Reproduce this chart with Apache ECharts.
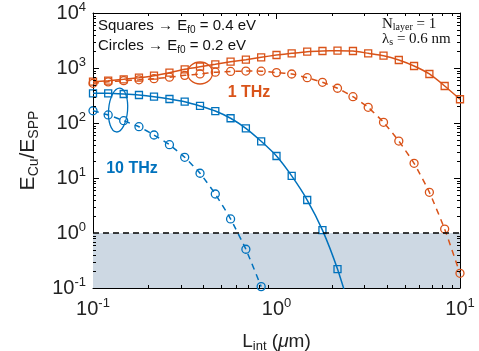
<!DOCTYPE html>
<html><head><meta charset="utf-8">
<script src="https://cdn.jsdelivr.net/npm/echarts@6/dist/echarts.min.js"></script>
<style>html,body{margin:0;padding:0;background:#fff}#c{width:479px;height:351px}</style>
</head><body><div id="c"></div>
<script>
// ---- data ----
const xValues = [0.1, 0.121, 0.147, 0.178, 0.215, 0.261, 0.316, 0.383, 0.464, 0.562, 0.681, 0.825,
  1, 1.21, 1.47, 1.78, 2.15, 2.61, 3.16, 3.83, 4.64, 5.62, 6.81, 8.25, 10];
// 1 THz, Ef0 = 0.4 eV (squares)
const orangeSquares = [564, 588, 623, 666, 725, 822, 946, 1056, 1167, 1302, 1416, 1566,
  1723, 1850, 1979, 2037, 2064, 2037, 1850, 1675, 1398, 1087, 778, 471, 270];
// 1 THz, Ef0 = 0.2 eV (circles)
const orangeCircles = [527, 560, 588, 610, 640, 680, 735, 780, 840, 865, 880, 875,
  825, 778, 666, 550, 428, 301, 193, 103, 47, 18.5, 5.5, 1.18, 0.185];
// 10 THz, Ef0 = 0.4 eV (squares)
const blueSquares = [347, 347, 337, 323, 301, 273, 244, 204, 165, 122, 80, 46.5,
  25.1, 10.9, 3.98, 1.13, 0.221, 0.028];
// 10 THz, Ef0 = 0.2 eV (circles)
const blueCircles = [167, 140, 110, 85.6, 60.5, 40.3, 23.8, 12.2, 5.12, 1.80, 0.506, 0.106];

const xTickValues = [0.1, 1, 10];
const yTickValues = [0.1, 1, 10, 100, 1000, 10000];
const xMinorTicks = [0.2, 0.3, 0.4, 0.5, 0.6, 0.7, 0.8, 0.9, 2, 3, 4, 5, 6, 7, 8, 9];
const yMinorTicks = [0.2, 0.3, 0.4, 0.5, 0.6, 0.7, 0.8, 0.9, 2, 3, 4, 5, 6, 7, 8, 9,
  20, 30, 40, 50, 60, 70, 80, 90, 200, 300, 400, 500, 600, 700, 800, 900,
  2000, 3000, 4000, 5000, 6000, 7000, 8000, 9000];
const shadeRange = [0.1, 1];
const thresholdLine = 1;
// annotation ellipse centres (data coordinates)
const orangeEllipseCenter = [0.383, 811];
const blueEllipseCenter = [0.137, 172];

// ---- styles ----
const ORANGE = '#D95319', BLUE = '#0072BD';
const FONT = '"Liberation Sans", Arial, Helvetica, sans-serif';
const SERIF = '"Liberation Serif", "Times New Roman", serif';

function pairs(ys) { return ys.map((y, i) => [xValues[i], y]); }
function expLabel(v) { const e = Math.round(Math.log10(v)); return '{b|10}{s|' + e + '}'; }

const labelRich = {
  b: { fontSize: 20, fontFamily: FONT, color: '#222' },
  s: { fontSize: 13, fontFamily: FONT, color: '#222', padding: [0, 0, 11, 0] }
};

function minorTickSeries(values, isX) {
  return {
    type: 'custom', coordinateSystem: 'cartesian2d', silent: true, z: 6,
    data: values.map(v => isX ? [v, 1] : [1, v]),
    renderItem(params, api) {
      const cs = params.coordSys;
      const st = { stroke: '#000', lineWidth: 1 };
      const L = 3;
      if (isX) {
        const px = Math.round(api.coord([api.value(0), 1])[0]) + 0.5;
        return { type: 'group', children: [
          { type: 'line', shape: { x1: px, y1: cs.y + cs.height, x2: px, y2: cs.y + cs.height - L }, style: st },
          { type: 'line', shape: { x1: px, y1: cs.y, x2: px, y2: cs.y + L }, style: st }
        ] };
      }
      const py = Math.round(api.coord([1, api.value(1)])[1]) + 0.5;
      return { type: 'group', children: [
        { type: 'line', shape: { x1: cs.x, y1: py, x2: cs.x + L, y2: py }, style: st },
        { type: 'line', shape: { x1: cs.x + cs.width, y1: py, x2: cs.x + cs.width - L, y2: py }, style: st }
      ] };
    }
  };
}

function dataSeries(ys, color, symbol, dashed, size) {
  return {
    type: 'line', data: pairs(ys), symbol: symbol, symbolSize: size, smooth: 0.15,
    clip: true, z: 3,
    lineStyle: { color: color, width: 1.5, type: dashed ? [6, 5] : 'solid' },
    itemStyle: { color: 'rgba(255,255,255,0)', borderColor: color, borderWidth: 1.3 },
    emphasis: { disabled: true }
  };
}

const chart = echarts.init(document.getElementById('c'));
const axisCommon = {
  type: 'log', logBase: 10, splitLine: { show: false },
  axisLine: { show: true, lineStyle: { color: '#000', width: 1 } },
  axisTick: { show: true, inside: true, length: 6, lineStyle: { color: '#000' } }
};
chart.setOption({
  animation: false,
  grid: { left: 93, right: 19, top: 13, bottom: 63, containLabel: false, outerBoundsMode: 'none' },
  xAxis: [
    Object.assign({}, axisCommon, {
      min: xTickValues[0], max: xTickValues[xTickValues.length - 1], interval: 1,
      position: 'bottom',
      axisLabel: { margin: 9, formatter: expLabel, rich: labelRich },
      name: '{a|L}{sub|int}{a| (}{mu|μ}{a|m)}', nameLocation: 'middle', nameGap: 42,
      nameTextStyle: { rich: {
        a: { fontSize: 19, fontFamily: FONT, color: '#222' },
        mu: { fontSize: 19, fontFamily: FONT, color: '#222', fontStyle: 'italic' },
        sub: { fontSize: 13, fontFamily: FONT, color: '#222', padding: [10, 0, 0, 0] }
      } }
    }),
    Object.assign({}, axisCommon, {
      min: xTickValues[0], max: xTickValues[xTickValues.length - 1], interval: 1,
      position: 'top', axisLabel: { show: false }
    })
  ],
  yAxis: [
    Object.assign({}, axisCommon, {
      min: yTickValues[0], max: yTickValues[yTickValues.length - 1], interval: 1,
      position: 'left',
      axisLabel: { margin: 7, formatter: expLabel, rich: labelRich },
      name: '{a|E}{sub|Cu}{a|/E}{sub|SPP}', nameLocation: 'middle', nameGap: 50, nameRotate: 90,
      nameTextStyle: { rich: {
        a: { fontSize: 21, fontFamily: FONT, color: '#222' },
        sub: { fontSize: 14, fontFamily: FONT, color: '#222', padding: [12, 0, 0, 0] }
      } }
    }),
    Object.assign({}, axisCommon, {
      min: yTickValues[0], max: yTickValues[yTickValues.length - 1], interval: 1,
      position: 'right', axisLabel: { show: false }
    })
  ],
  series: [
    {
      type: 'line', data: [], z: 1, silent: true,
      markArea: { silent: true, itemStyle: { color: '#cdd8e3' },
        data: [[{ yAxis: shadeRange[0] }, { yAxis: shadeRange[1] }]] },
      markLine: { silent: true, symbol: 'none', label: { show: false },
        lineStyle: { color: '#000', width: 1.5, type: [6, 4] },
        data: [{ yAxis: thresholdLine }] }
    },
    dataSeries(orangeSquares, ORANGE, 'rect', false, 7),
    dataSeries(orangeCircles, ORANGE, 'circle', true, 8),
    dataSeries(blueSquares, BLUE, 'rect', false, 7),
    dataSeries(blueCircles, BLUE, 'circle', true, 8),
    minorTickSeries(xMinorTicks, true),
    minorTickSeries(yMinorTicks, false)
  ]
});

const oc = chart.convertToPixel({ gridIndex: 0 }, orangeEllipseCenter);
const bc = chart.convertToPixel({ gridIndex: 0 }, blueEllipseCenter);
chart.setOption({
  graphic: [
    { type: 'ellipse', shape: { cx: oc[0], cy: oc[1], rx: 12.5, ry: 11 },
      style: { fill: 'none', stroke: ORANGE, lineWidth: 1.3 }, z: 10 },
    { type: 'ellipse', shape: { cx: 0, cy: 0, rx: 9.5, ry: 22 }, x: bc[0], y: bc[1], rotation: -0.08,
      style: { fill: 'none', stroke: BLUE, lineWidth: 1.3 }, z: 10 },
    { type: 'text', x: 98, y: 26, z: 10,
      style: { text: '{a|Squares → E}{sub|f0}{a| = 0.4 eV}', align: 'left', verticalAlign: 'middle',
        rich: { a: { fontSize: 15, fontFamily: FONT, fill: '#111' },
                sub: { fontSize: 10, fontFamily: FONT, fill: '#111', padding: [8, 0, 0, 0] } } } },
    { type: 'text', x: 98, y: 46, z: 10,
      style: { text: '{a|Circles → E}{sub|f0}{a| = 0.2 eV}', align: 'left', verticalAlign: 'middle',
        rich: { a: { fontSize: 15, fontFamily: FONT, fill: '#111' },
                sub: { fontSize: 10, fontFamily: FONT, fill: '#111', padding: [8, 0, 0, 0] } } } },
    { type: 'text', x: 382, y: 24, z: 10,
      style: { text: '{a|N}{sub|layer}{a| = 1}', align: 'left', verticalAlign: 'middle',
        rich: { a: { fontSize: 15, fontFamily: SERIF, fill: '#111' },
                sub: { fontSize: 10, fontFamily: SERIF, fill: '#111', padding: [7, 0, 0, 0] } } } },
    { type: 'text', x: 382, y: 39, z: 10,
      style: { text: '{a|λ}{sub|s}{a| = 0.6 nm}', align: 'left', verticalAlign: 'middle',
        rich: { a: { fontSize: 15, fontFamily: SERIF, fill: '#111' },
                sub: { fontSize: 10, fontFamily: SERIF, fill: '#111', padding: [7, 0, 0, 0] } } } },
    { type: 'text', x: 249, y: 93, z: 10,
      style: { text: '1 THz', align: 'center', verticalAlign: 'middle',
        font: 'bold 16px ' + FONT, fill: ORANGE } },
    { type: 'text', x: 132, y: 169, z: 10,
      style: { text: '10 THz', align: 'center', verticalAlign: 'middle',
        font: 'bold 16px ' + FONT, fill: BLUE } }
  ]
});
</script></body></html>
